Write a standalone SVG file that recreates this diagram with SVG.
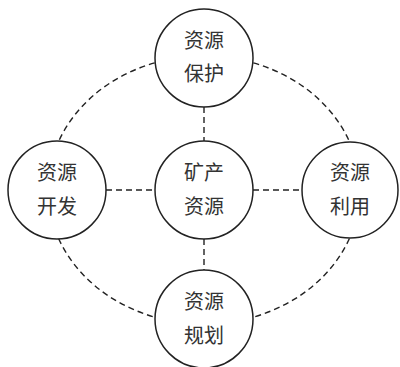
<svg xmlns="http://www.w3.org/2000/svg" width="400" height="367" viewBox="0 0 400 367">
<style>
.conn{fill:none;stroke:#222;stroke-width:1.4;stroke-dasharray:6 4}
.node circle{fill:#fff;stroke:#222;stroke-width:1.5}
.node text{font-family:"Noto Sans CJK SC","Noto Sans CJK JP",sans-serif;font-size:20px;fill:#333;text-anchor:middle}
</style>
<rect width="400" height="367" fill="#fff"/>
<g id="connectors">
<path class="conn" d="M204 56 A156 134 0 0 0 48 190"/>
<path class="conn" d="M204 56 A156 134 0 0 1 360 190"/>
<path class="conn" d="M48 190 A156 134 0 0 0 204 324"/>
<path class="conn" d="M360 190 A156 134 0 0 1 204 324"/>
<line class="conn" x1="204" y1="107" x2="204" y2="142"/>
<line class="conn" x1="204" y1="239" x2="204" y2="271"/>
<line class="conn" x1="106" y1="190" x2="155" y2="190"/>
<line class="conn" x1="253" y1="190" x2="302" y2="190"/>
</g>
<g id="node-top" class="node"><circle cx="204" cy="58" r="49"/><text x="204" y="48">资源</text><text x="204" y="81">保护</text></g>
<g id="node-left" class="node"><circle cx="57" cy="190" r="49"/><text x="57" y="180">资源</text><text x="57" y="214">开发</text></g>
<g id="node-center" class="node"><circle cx="204" cy="190" r="49"/><text x="204" y="180">矿产</text><text x="204" y="214">资源</text></g>
<g id="node-right" class="node"><circle cx="350" cy="190" r="48"/><text x="350" y="180">资源</text><text x="350" y="214">利用</text></g>
<g id="node-bottom" class="node"><circle cx="204" cy="319" r="49"/><text x="204" y="309">资源</text><text x="204" y="343">规划</text></g>
</svg>
